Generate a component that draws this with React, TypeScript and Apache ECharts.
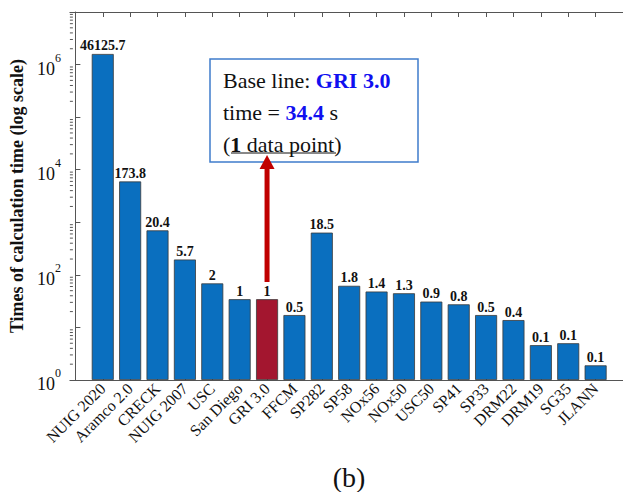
import React, { useEffect, useRef } from "react";
import * as echarts from "echarts";

const categories = ["NUIG 2020", "Aramco 2.0", "CRECK", "NUIG 2007", "USC", "San Diego", "GRI 3.0", "FFCM", "SP282", "SP58", "NOx56", "NOx50", "USC50", "SP41", "SP33", "DRM22", "DRM19", "SG35", "JLANN"];
const barValues = [1590000, 5980, 702, 196, 68.8, 34.4, 34.4, 17.2, 636, 61.9, 48.2, 44.7, 31, 27.5, 17.2, 13.8, 4.6, 5.0, 1.9];
const barLabels = ["46125.7", "173.8", "20.4", "5.7", "2", "1", "1", "0.5", "18.5", "1.8", "1.4", "1.3", "0.9", "0.8", "0.5", "0.4", "0.1", "0.1", "0.1"];
const baselineIndex = 6;
const majorTickValues = [1, 10, 100, 1000, 10000, 100000, 1000000, 10000000];
const yLabelValues = [1, 100, 10000, 1000000];
const minorMantissas = [2, 3, 4, 5, 6, 7, 8, 9];
const minorDecades = [1, 10, 100, 1000, 10000, 100000, 1000000];

const SERIF = "Liberation Serif";
const BLUE = "#0a6fbf";
const RED = "#a3162f";
const AXIS = "#555";
const X_MIN = -0.2;
const X_MAX = 20;

export default function App() {
  const ref = useRef<HTMLDivElement>(null);
  useEffect(() => {
    if (!ref.current) return;
    const chart = echarts.init(ref.current, null, { renderer: "svg" });
    const positions = categories.map((_, i) => i + 1);
    const minorData: number[][] = [];
    minorDecades.forEach((d) => minorMantissas.forEach((m) => minorData.push([X_MIN, m * d])));

    chart.setOption({
      animation: false,
      textStyle: { fontFamily: SERIF },
      grid: { left: 69, top: 12, width: 559, height: 368 },
      xAxis: [
        {
          type: "value",
          min: X_MIN,
          max: X_MAX,
          position: "bottom",
          axisLine: { lineStyle: { color: AXIS, width: 1 } },
          axisTick: { show: true, inside: true, length: 4, customValues: positions, lineStyle: { color: AXIS } },
          axisLabel: {
            customValues: positions,
            formatter: (v: number) => categories[Math.round(v) - 1] || "",
            rotate: 45,
            margin: 6,
            fontFamily: SERIF,
            fontSize: 16,
            color: "#111",
          },
          splitLine: { show: false },
        },
        {
          type: "value",
          min: X_MIN,
          max: X_MAX,
          position: "top",
          axisLine: { show: true, lineStyle: { color: AXIS, width: 1 } },
          axisTick: { show: true, inside: true, length: 5, customValues: positions, lineStyle: { color: AXIS } },
          axisLabel: { show: false },
          splitLine: { show: false },
        },
      ],
      yAxis: {
        type: "log",
        logBase: 10,
        min: 1,
        max: 10000000,
        name: "Times of calculation time (log scale)",
        nameLocation: "middle",
        nameGap: 38,
        nameTextStyle: { fontFamily: SERIF, fontSize: 18, fontWeight: "bold", color: "#111" },
        axisLine: { show: true, lineStyle: { color: AXIS, width: 1 } },
        axisTick: { show: true, inside: true, length: 5, customValues: majorTickValues, lineStyle: { color: AXIS } },
        axisLabel: {
          customValues: yLabelValues,
          margin: 9,
          formatter: (v: number) => `{b|10}{s|${Math.round(Math.log10(v))}}`,
          rich: {
            b: { fontFamily: SERIF, fontSize: 18, color: "#111", padding: [8, 0, 0, 0] },
            s: { fontFamily: SERIF, fontSize: 12, color: "#111", verticalAlign: "top", padding: [0, 0, 6, 0] },
          },
        },
        splitLine: { show: false },
      },
      series: [
        {
          type: "bar",
          barWidth: 22,
          xAxisIndex: 0,
          data: barValues.map((v, i) => ({
            value: [positions[i], v],
            itemStyle: { color: i === baselineIndex ? RED : BLUE },
          })),
          itemStyle: { borderColor: "#3a3a3a", borderWidth: 0.8 },
          label: {
            show: true,
            position: "top",
            distance: 1,
            formatter: (p: any) => barLabels[p.dataIndex],
            fontFamily: SERIF,
            fontSize: 14,
            fontWeight: "bold",
            color: "#111",
          },
        },
        {
          type: "custom",
          xAxisIndex: 0,
          clip: false,
          silent: true,
          data: minorData,
          renderItem: (_params: any, api: any) => {
            const p = api.coord([api.value(0), api.value(1)]);
            return {
              type: "line",
              shape: { x1: p[0], y1: p[1], x2: p[0] + 3, y2: p[1] },
              style: { stroke: AXIS, lineWidth: 1 },
            };
          },
        },
      ],
    });

    const gx = chart.convertToPixel({ xAxisIndex: 0 }, positions[baselineIndex]) as number;
    const arrowTipY = 155;
    const arrowBottom = 282;
    const blue = "#1010f0";
    const FS = 22;
    chart.setOption({
      graphic: [
        {
          type: "rect",
          shape: { x: 210, y: 59, width: 208, height: 103 },
          style: { fill: "#fff", stroke: "#3f7ccc", lineWidth: 1.5 },
          z: 10,
        },
        {
          type: "text",
          x: 223,
          y: 80,
          z: 11,
          style: {
            text: "{n|Base line: }{h|GRI 3.0}",
            verticalAlign: "middle",
            rich: {
              n: { fontFamily: SERIF, fontSize: FS, fill: "#111" },
              h: { fontFamily: SERIF, fontSize: FS, fontWeight: "bold", fill: blue },
            },
          },
        },
        {
          type: "text",
          x: 223,
          y: 112,
          z: 11,
          style: {
            text: "{n|time = }{h|34.4}{n| s}",
            verticalAlign: "middle",
            rich: {
              n: { fontFamily: SERIF, fontSize: FS, fill: "#111" },
              h: { fontFamily: SERIF, fontSize: FS, fontWeight: "bold", fill: blue },
            },
          },
        },
        {
          type: "text",
          x: 223,
          y: 144,
          z: 11,
          style: {
            text: "{n|(}{b|1}{n| data point)}",
            verticalAlign: "middle",
            rich: {
              n: { fontFamily: SERIF, fontSize: FS, fill: "#111" },
              b: { fontFamily: SERIF, fontSize: FS, fontWeight: "bold", fill: "#111" },
            },
          },
        },
        {
          type: "line",
          z: 11,
          shape: { x1: 231, y1: 153, x2: 336, y2: 153 },
          style: { stroke: "#111", lineWidth: 1 },
        },
        {
          type: "rect",
          z: 12,
          shape: { x: gx - 2.5, y: arrowTipY + 12, width: 5, height: arrowBottom - arrowTipY - 12 },
          style: { fill: "#c00000" },
        },
        {
          type: "polygon",
          z: 12,
          shape: { points: [[gx, arrowTipY], [gx - 7.5, arrowTipY + 14], [gx + 7.5, arrowTipY + 14]] },
          style: { fill: "#c00000" },
        },
        {
          type: "text",
          x: 349,
          y: 477,
          style: { text: "(b)", fontFamily: SERIF, fontSize: 28, fill: "#111", align: "center", verticalAlign: "middle" },
        },
      ],
    });

    return () => chart.dispose();
  }, []);
  return <div ref={ref} style={{ position: "fixed", left: 0, top: 0, width: 623, height: 492, background: "#fff" }} />;
}
